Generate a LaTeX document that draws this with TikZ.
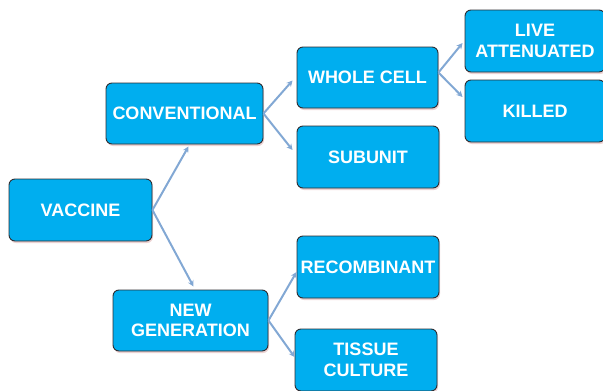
\documentclass[tikz,border=0pt]{standalone}
\usepackage{fontspec}
\setmainfont{Liberation Sans}
\usetikzlibrary{arrows.meta,shadows}

\definecolor{boxblue}{RGB}{0,174,239}
\definecolor{boxedge}{RGB}{45,45,50}
\definecolor{linkblue}{RGB}{130,168,212}

\begin{document}
\begin{tikzpicture}[x=1pt,y=-1pt,
    vbox/.style={draw=boxedge, line width=0.9pt, fill=boxblue, rounded corners=6pt,
        minimum width=142pt, minimum height=62pt, inner sep=0pt, align=center,
        text=white, font=\fontsize{18}{20.5}\selectfont\bfseries,
        drop shadow={shadow xshift=1pt, shadow yshift=-2pt, opacity=0.25, fill=red!40!gray}},
    link/.style={draw=linkblue, line width=2pt, -{Stealth[length=6pt,width=6pt]}}]
    \useasboundingbox (0,0) rectangle (603,391);

    \node[vbox, minimum width=143pt] (vaccine) at (80.5,210) {VACCINE};

    \node[vbox, minimum width=157pt, minimum height=61pt] (conv) at (184.5,113.5) {CONVENTIONAL};
    \node[vbox, minimum width=155pt, minimum height=61pt] (newgen) at (190.5,320.5) {NEW\\GENERATION};

    \node[vbox, minimum width=141pt, minimum height=61pt] (wcell) at (367.5,77.5) {WHOLE CELL};
    \node[vbox] (subunit) at (368,157) {SUBUNIT};

    \node[vbox, minimum width=140pt] (live) at (535,41) {LIVE\\ATTENUATED};
    \node[vbox, minimum width=140pt] (killed) at (535,111) {KILLED};

    \node[vbox] (recomb) at (368,267) {RECOMBINANT};
    \node[vbox] (tissue) at (366,360) {TISSUE\\CULTURE};

    % branches
    \draw[link] (vaccine.east) -- ([xshift=4pt,yshift=-2pt]conv.south);
    \draw[link] (vaccine.east) -- ([xshift=3pt,yshift=3pt]newgen.north);

    \draw[link] (conv.east) -- ([xshift=-4pt,yshift=-3pt]wcell.west);
    \draw[link] (conv.east) -- ([xshift=-4pt,yshift=7pt]subunit.west);

    \draw[link] ([yshift=5pt]wcell.east) -- ([xshift=-2pt,yshift=-2pt]live.west);
    \draw[link] ([yshift=5pt]wcell.east) -- ([xshift=-2pt,yshift=14pt]killed.west);

    \draw[link] (newgen.east) -- ([xshift=0pt,yshift=-5pt]recomb.west);
    \draw[link] (newgen.east) -- ([xshift=0pt,yshift=3pt]tissue.west);
\end{tikzpicture}
\end{document}
